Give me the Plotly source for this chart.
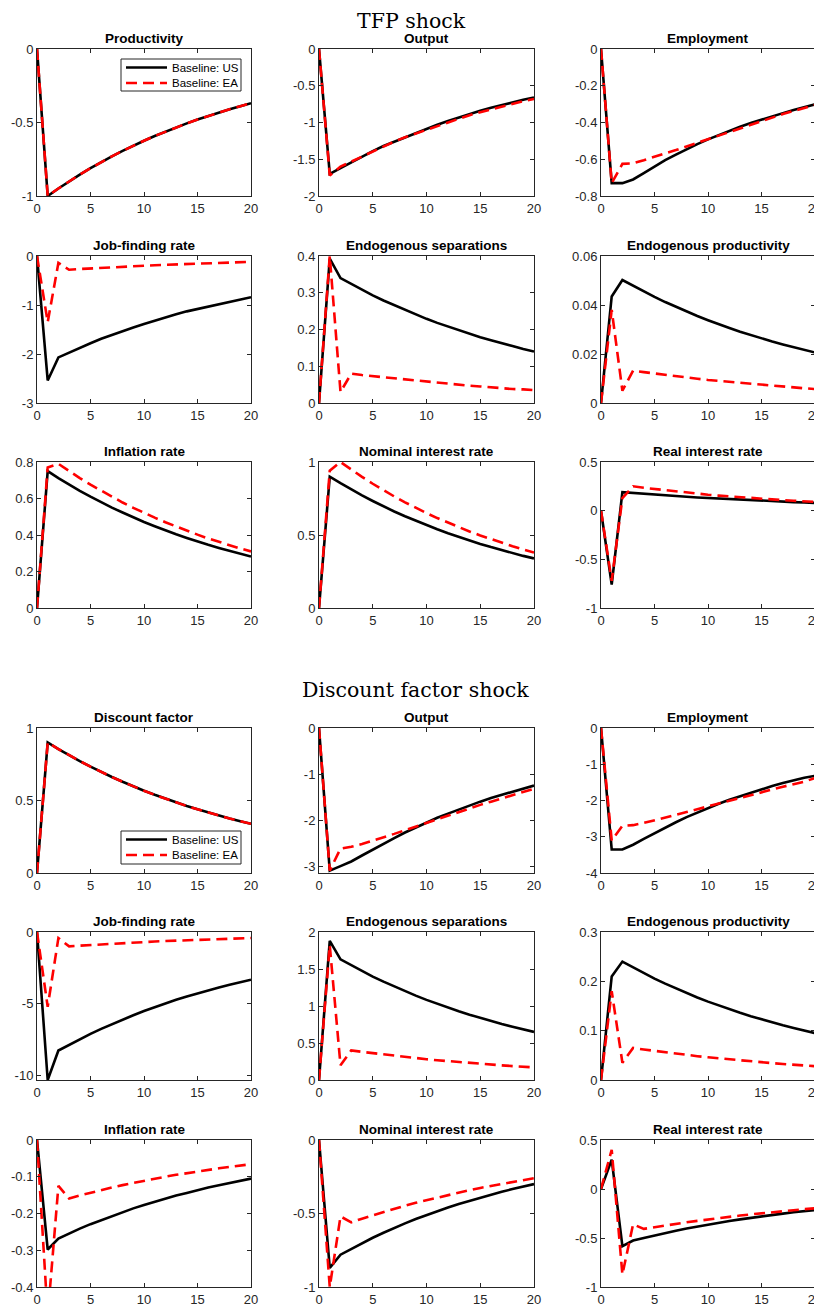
import plotly.graph_objects as go

periods = list(range(21))

titles_tfp = ["Productivity", "Output", "Employment",
              "Job-finding rate", "Endogenous separations", "Endogenous productivity",
              "Inflation rate", "Nominal interest rate", "Real interest rate"]
titles_disc = ["Discount factor", "Output", "Employment",
               "Job-finding rate", "Endogenous separations", "Endogenous productivity",
               "Inflation rate", "Nominal interest rate", "Real interest rate"]
legend_labels = ["Baseline: US", "Baseline: EA"]

# ---------------- TFP shock ----------------
tfp_productivity_us = [0, -1.0, -0.949, -0.900, -0.854, -0.811, -0.769, -0.730, -0.693, -0.657, -0.624,
                       -0.592, -0.562, -0.533, -0.506, -0.480, -0.455, -0.432, -0.410, -0.389, -0.369]
tfp_productivity_ea = [0, -1.0, -0.949, -0.900, -0.854, -0.811, -0.769, -0.730, -0.693, -0.657, -0.624,
                       -0.592, -0.562, -0.533, -0.506, -0.480, -0.455, -0.432, -0.410, -0.389, -0.369]
tfp_output_us = [0, -1.70, -1.62, -1.54, -1.46, -1.39, -1.32, -1.26, -1.20, -1.14, -1.08,
                 -1.03, -0.98, -0.93, -0.88, -0.84, -0.80, -0.76, -0.72, -0.69, -0.66]
tfp_output_ea = [0, -1.72, -1.60, -1.53, -1.46, -1.39, -1.32, -1.26, -1.20, -1.15, -1.09,
                 -1.04, -0.99, -0.95, -0.90, -0.86, -0.82, -0.78, -0.75, -0.71, -0.68]
tfp_employment_us = [0, -0.73, -0.73, -0.71, -0.675, -0.64, -0.605, -0.575, -0.545, -0.518, -0.492,
                     -0.468, -0.445, -0.423, -0.403, -0.384, -0.366, -0.349, -0.332, -0.316, -0.301]
tfp_employment_ea = [0, -0.73, -0.625, -0.622, -0.605, -0.585, -0.568, -0.55, -0.53, -0.51, -0.49,
                     -0.47, -0.45, -0.43, -0.41, -0.39, -0.372, -0.354, -0.337, -0.32, -0.305]
tfp_jobfinding_us = [0, -2.54, -2.07, -1.97, -1.87, -1.78, -1.69, -1.61, -1.53, -1.46, -1.39,
                     -1.32, -1.25, -1.19, -1.13, -1.08, -1.03, -0.98, -0.93, -0.88, -0.84]
tfp_jobfinding_ea = [0, -1.35, -0.14, -0.28, -0.266, -0.253, -0.241, -0.229, -0.218, -0.208, -0.198,
                     -0.188, -0.179, -0.170, -0.162, -0.154, -0.147, -0.140, -0.133, -0.127, -0.120]
tfp_separations_us = [0, 0.393, 0.340, 0.324, 0.308, 0.293, 0.279, 0.266, 0.253, 0.241, 0.229,
                      0.218, 0.208, 0.198, 0.188, 0.179, 0.171, 0.162, 0.155, 0.147, 0.140]
tfp_separations_ea = [0, 0.40, 0.03, 0.080, 0.076, 0.073, 0.069, 0.066, 0.063, 0.060, 0.057,
                      0.054, 0.052, 0.049, 0.047, 0.045, 0.042, 0.040, 0.038, 0.037, 0.035]
tfp_endprod_us = [0, 0.0435, 0.0502, 0.0478, 0.0455, 0.0433, 0.0412, 0.0392, 0.0373, 0.0355, 0.0338,
                  0.0321, 0.0306, 0.0291, 0.0277, 0.0264, 0.0251, 0.0239, 0.0227, 0.0216, 0.0206]
tfp_endprod_ea = [0, 0.038, 0.005, 0.0132, 0.0126, 0.0120, 0.0114, 0.0109, 0.0104, 0.0099, 0.0094,
                  0.0090, 0.0085, 0.0081, 0.0077, 0.0074, 0.0070, 0.0067, 0.0063, 0.0060, 0.0057]
tfp_inflation_us = [0, 0.750, 0.712, 0.676, 0.642, 0.610, 0.579, 0.550, 0.523, 0.496, 0.471,
                    0.448, 0.425, 0.404, 0.384, 0.364, 0.346, 0.329, 0.312, 0.297, 0.282]
tfp_inflation_ea = [0, 0.770, 0.790, 0.750, 0.712, 0.676, 0.642, 0.609, 0.578, 0.549, 0.521,
                    0.495, 0.470, 0.446, 0.423, 0.402, 0.381, 0.362, 0.344, 0.326, 0.310]
tfp_nominal_us = [0, 0.900, 0.855, 0.812, 0.771, 0.733, 0.696, 0.661, 0.628, 0.597, 0.567,
                  0.539, 0.512, 0.486, 0.462, 0.439, 0.417, 0.396, 0.376, 0.357, 0.340]
tfp_nominal_ea = [0, 0.94, 1.00, 0.948, 0.898, 0.851, 0.806, 0.764, 0.724, 0.686, 0.650,
                  0.616, 0.584, 0.553, 0.524, 0.497, 0.471, 0.446, 0.423, 0.401, 0.380]
tfp_real_us = [0, -0.76, 0.190, 0.181, 0.173, 0.165, 0.157, 0.150, 0.143, 0.136, 0.130,
               0.124, 0.118, 0.112, 0.107, 0.102, 0.097, 0.093, 0.088, 0.084, 0.080]
tfp_real_ea = [0, -0.72, 0.13, 0.250, 0.235, 0.222, 0.209, 0.197, 0.185, 0.174, 0.164,
               0.155, 0.146, 0.137, 0.129, 0.122, 0.115, 0.108, 0.102, 0.096, 0.090]

# ---------------- Discount factor shock ----------------
disc_discount_us = [0, 0.900, 0.855, 0.812, 0.772, 0.733, 0.696, 0.662, 0.629, 0.597, 0.567,
                    0.539, 0.512, 0.486, 0.462, 0.439, 0.417, 0.396, 0.376, 0.357, 0.339]
disc_discount_ea = [0, 0.900, 0.855, 0.812, 0.772, 0.733, 0.696, 0.662, 0.629, 0.597, 0.567,
                    0.539, 0.512, 0.486, 0.462, 0.439, 0.417, 0.396, 0.376, 0.357, 0.339]
disc_output_us = [0, -3.10, -3.00, -2.90, -2.77, -2.64, -2.51, -2.39, -2.27, -2.16, -2.05,
                  -1.95, -1.86, -1.77, -1.68, -1.60, -1.52, -1.45, -1.38, -1.31, -1.25]
disc_output_ea = [0, -3.10, -2.62, -2.58, -2.52, -2.45, -2.38, -2.30, -2.22, -2.14, -2.06,
                  -1.98, -1.90, -1.82, -1.74, -1.67, -1.60, -1.53, -1.46, -1.39, -1.32]
disc_employment_us = [0, -3.35, -3.35, -3.22, -3.06, -2.90, -2.75, -2.60, -2.46, -2.33, -2.21,
                      -2.09, -1.98, -1.88, -1.78, -1.69, -1.60, -1.52, -1.44, -1.37, -1.32]
disc_employment_ea = [0, -3.10, -2.70, -2.68, -2.62, -2.55, -2.48, -2.40, -2.32, -2.24, -2.16,
                      -2.08, -2.00, -1.92, -1.84, -1.76, -1.69, -1.62, -1.55, -1.48, -1.38]
disc_jobfinding_us = [0, -10.3, -8.25, -7.85, -7.46, -7.09, -6.74, -6.41, -6.09, -5.79, -5.50,
                      -5.23, -4.97, -4.72, -4.49, -4.27, -4.06, -3.86, -3.67, -3.49, -3.32]
disc_jobfinding_ea = [0, -5.2, -0.42, -1.0, -0.95, -0.903, -0.858, -0.815, -0.774, -0.735, -0.698,
                      -0.663, -0.630, -0.599, -0.569, -0.540, -0.513, -0.488, -0.463, -0.440, -0.418]
disc_separations_us = [0, 1.88, 1.63, 1.549, 1.472, 1.398, 1.329, 1.263, 1.200, 1.140, 1.083,
                       1.029, 0.978, 0.929, 0.883, 0.839, 0.797, 0.757, 0.720, 0.684, 0.650]
disc_separations_ea = [0, 1.82, 0.20, 0.40, 0.380, 0.362, 0.344, 0.327, 0.311, 0.296, 0.281,
                       0.267, 0.254, 0.242, 0.230, 0.219, 0.208, 0.198, 0.188, 0.179, 0.170]
disc_endprod_us = [0, 0.21, 0.240, 0.228, 0.2165, 0.2056, 0.1953, 0.1855, 0.1762, 0.1673, 0.1589,
                   0.1510, 0.1434, 0.1362, 0.1293, 0.1228, 0.1167, 0.1108, 0.1052, 0.0999, 0.0949]
disc_endprod_ea = [0, 0.18, 0.035, 0.065, 0.0619, 0.0589, 0.0560, 0.0533, 0.0508, 0.0483, 0.0460,
                   0.0438, 0.0416, 0.0396, 0.0377, 0.0359, 0.0342, 0.0325, 0.0309, 0.0294, 0.0280]
disc_inflation_us = [0, -0.298, -0.268, -0.254, -0.241, -0.229, -0.218, -0.207, -0.196, -0.186, -0.177,
                     -0.168, -0.159, -0.151, -0.144, -0.136, -0.129, -0.123, -0.117, -0.111, -0.105]
disc_inflation_ea = [0, -0.48, -0.125, -0.159, -0.151, -0.1434, -0.1362, -0.1293, -0.1228, -0.1166, -0.1107,
                     -0.1051, -0.0998, -0.0948, -0.0900, -0.0855, -0.0812, -0.0771, -0.0732, -0.0695, -0.066]
disc_nominal_us = [0, -0.87, -0.78, -0.740, -0.701, -0.665, -0.631, -0.598, -0.567, -0.538, -0.510,
                   -0.484, -0.459, -0.435, -0.413, -0.391, -0.371, -0.352, -0.334, -0.316, -0.300]
disc_nominal_ea = [0, -1.00, -0.52, -0.56, -0.535, -0.512, -0.489, -0.468, -0.447, -0.427, -0.409,
                   -0.391, -0.373, -0.357, -0.341, -0.326, -0.312, -0.298, -0.285, -0.272, -0.260]
disc_real_us = [0, 0.30, -0.584, -0.526, -0.499, -0.473, -0.449, -0.426, -0.404, -0.383, -0.363,
                -0.345, -0.327, -0.310, -0.294, -0.279, -0.265, -0.251, -0.238, -0.226, -0.214]
disc_real_ea = [0, 0.40, -0.872, -0.36, -0.407, -0.389, -0.372, -0.355, -0.340, -0.325, -0.310,
                -0.296, -0.283, -0.271, -0.259, -0.247, -0.236, -0.226, -0.216, -0.206, -0.197]

# y-axis ranges and tick values per panel
y_ranges = [[-1, 0], [-2, 0], [-0.8, 0], [-3, 0], [0, 0.4], [0, 0.06], [0, 0.8], [0, 1], [-1, 0.5],
            [0, 1], [-3.15, 0], [-4, 0], [-10.3, 0], [0, 2], [0, 0.3], [-0.4, 0], [-1, 0], [-1, 0.5]]
y_ticks = [[-1, -0.5, 0], [-2, -1.5, -1, -0.5, 0], [-0.8, -0.6, -0.4, -0.2, 0], [-3, -2, -1, 0],
           [0, 0.1, 0.2, 0.3, 0.4], [0, 0.02, 0.04, 0.06], [0, 0.2, 0.4, 0.6, 0.8], [0, 0.5, 1],
           [-1, -0.5, 0, 0.5],
           [0, 0.5, 1], [-3, -2, -1, 0], [-4, -3, -2, -1, 0], [-10, -5, 0], [0, 0.5, 1, 1.5, 2],
           [0, 0.1, 0.2, 0.3], [-0.4, -0.3, -0.2, -0.1, 0], [-1, -0.5, 0], [-1, -0.5, 0, 0.5]]
x_ticks = [0, 5, 10, 15, 20]

series_us = [tfp_productivity_us, tfp_output_us, tfp_employment_us, tfp_jobfinding_us, tfp_separations_us,
             tfp_endprod_us, tfp_inflation_us, tfp_nominal_us, tfp_real_us,
             disc_discount_us, disc_output_us, disc_employment_us, disc_jobfinding_us, disc_separations_us,
             disc_endprod_us, disc_inflation_us, disc_nominal_us, disc_real_us]
series_ea = [tfp_productivity_ea, tfp_output_ea, tfp_employment_ea, tfp_jobfinding_ea, tfp_separations_ea,
             tfp_endprod_ea, tfp_inflation_ea, tfp_nominal_ea, tfp_real_ea,
             disc_discount_ea, disc_output_ea, disc_employment_ea, disc_jobfinding_ea, disc_separations_ea,
             disc_endprod_ea, disc_inflation_ea, disc_nominal_ea, disc_real_ea]
panel_titles = titles_tfp + titles_disc

# ---------------- layout geometry (page pixels) ----------------
PAGE_W, PAGE_H = 822, 1308
OFF = 8                      # default body margin of the html page
W, H = PAGE_W - OFF, PAGE_H - OFF


def px_x(p):
    return (p - OFF) / W


def px_y(p):
    return 1 - (p - OFF) / H


col_px = [(37, 251), (319, 534), (601, 815)]
row_px = [(49, 196), (256, 403), (462, 608), (728, 873), (932, 1080), (1140, 1287)]

AX_COLOR = "#262626"
SANS = "Liberation Sans, Arial, Helvetica"
TICK_FONT = dict(family=SANS, size=13, color=AX_COLOR)
US_LINE = dict(color="black", width=2.6)
EA_LINE = dict(color="#ff0000", width=2.6, dash="11px,6px")

fig = go.Figure()
layout = dict(width=W, height=H, template="none",
              margin=dict(l=0, r=0, t=0, b=0, pad=0, autoexpand=False),
              paper_bgcolor="white", plot_bgcolor="white", showlegend=False)
annotations = []
shapes = []

for i in range(18):
    r, c = divmod(i, 3)
    x0, x1 = col_px[c]
    y0, y1 = row_px[r]
    xa = "xaxis" if i == 0 else f"xaxis{i+1}"
    ya = "yaxis" if i == 0 else f"yaxis{i+1}"
    xref = "x" if i == 0 else f"x{i+1}"
    yref = "y" if i == 0 else f"y{i+1}"
    common = dict(showgrid=False, zeroline=False, showline=True, linecolor=AX_COLOR, linewidth=1,
                  mirror="ticks", ticks="inside", ticklen=4, tickwidth=1, tickcolor=AX_COLOR,
                  tickfont=TICK_FONT, automargin=False, fixedrange=True, ticklabeloverflow="allow")
    layout[xa] = dict(domain=[px_x(x0), px_x(x1)], anchor=yref, range=[0, 20],
                      tickvals=x_ticks, ticktext=[f"{v:g}" for v in x_ticks], **common)
    layout[ya] = dict(domain=[px_y(y1), px_y(y0)], anchor=xref, range=y_ranges[i],
                      tickvals=y_ticks[i], ticktext=[f"{v:g}" for v in y_ticks[i]], **common)
    fig.add_trace(go.Scatter(x=periods, y=series_us[i], mode="lines", xaxis=xref, yaxis=yref,
                             line=US_LINE, name=legend_labels[0], cliponaxis=True))
    fig.add_trace(go.Scatter(x=periods, y=series_ea[i], mode="lines", xaxis=xref, yaxis=yref,
                             line=EA_LINE, name=legend_labels[1], cliponaxis=True))
    annotations.append(dict(text=f"<b>{panel_titles[i]}</b>", xref="paper", yref="paper",
                            x=px_x((x0 + x1) / 2), y=px_y(y0 - 1), xanchor="center", yanchor="bottom",
                            showarrow=False, font=dict(family=SANS, size=13.5, color="black")))

annotations.append(dict(text="TFP shock", xref="paper", yref="paper", x=px_x(411), y=1,
                        xanchor="center", yanchor="top", borderpad=0, showarrow=False,
                        font=dict(family="DejaVu Serif", size=20.5, color="black")))
annotations.append(dict(text="Discount factor shock", xref="paper", yref="paper", x=px_x(415), y=px_y(690),
                        xanchor="center", yanchor="middle", showarrow=False,
                        font=dict(family="DejaVu Serif", size=20.5, color="black")))

# legend boxes (panel 1 and panel 10)
legend_boxes = [(121, 59, 241, 91), (121, 831, 241, 864)]
for (bx0, by0, bx1, by1) in legend_boxes:
    shapes.append(dict(type="rect", xref="paper", yref="paper", x0=px_x(bx0), x1=px_x(bx1),
                       y0=px_y(by1), y1=px_y(by0), line=dict(color=AX_COLOR, width=1),
                       fillcolor="white", layer="above"))
    ys = [by0 + 8.5, by0 + 24]
    for k, (yy, ln) in enumerate(zip(ys, [US_LINE, EA_LINE])):
        shapes.append(dict(type="line", xref="paper", yref="paper", x0=px_x(bx0 + 5), x1=px_x(bx0 + 46),
                           y0=px_y(yy), y1=px_y(yy), line=ln, layer="above"))
        annotations.append(dict(text=legend_labels[k], xref="paper", yref="paper", x=px_x(bx0 + 49),
                                y=px_y(yy), xanchor="left", yanchor="middle", showarrow=False,
                                font=dict(family=SANS, size=11.5, color="black")))

layout["annotations"] = annotations
layout["shapes"] = shapes
fig.update_layout(**layout)
fig.write_html("out.html")
